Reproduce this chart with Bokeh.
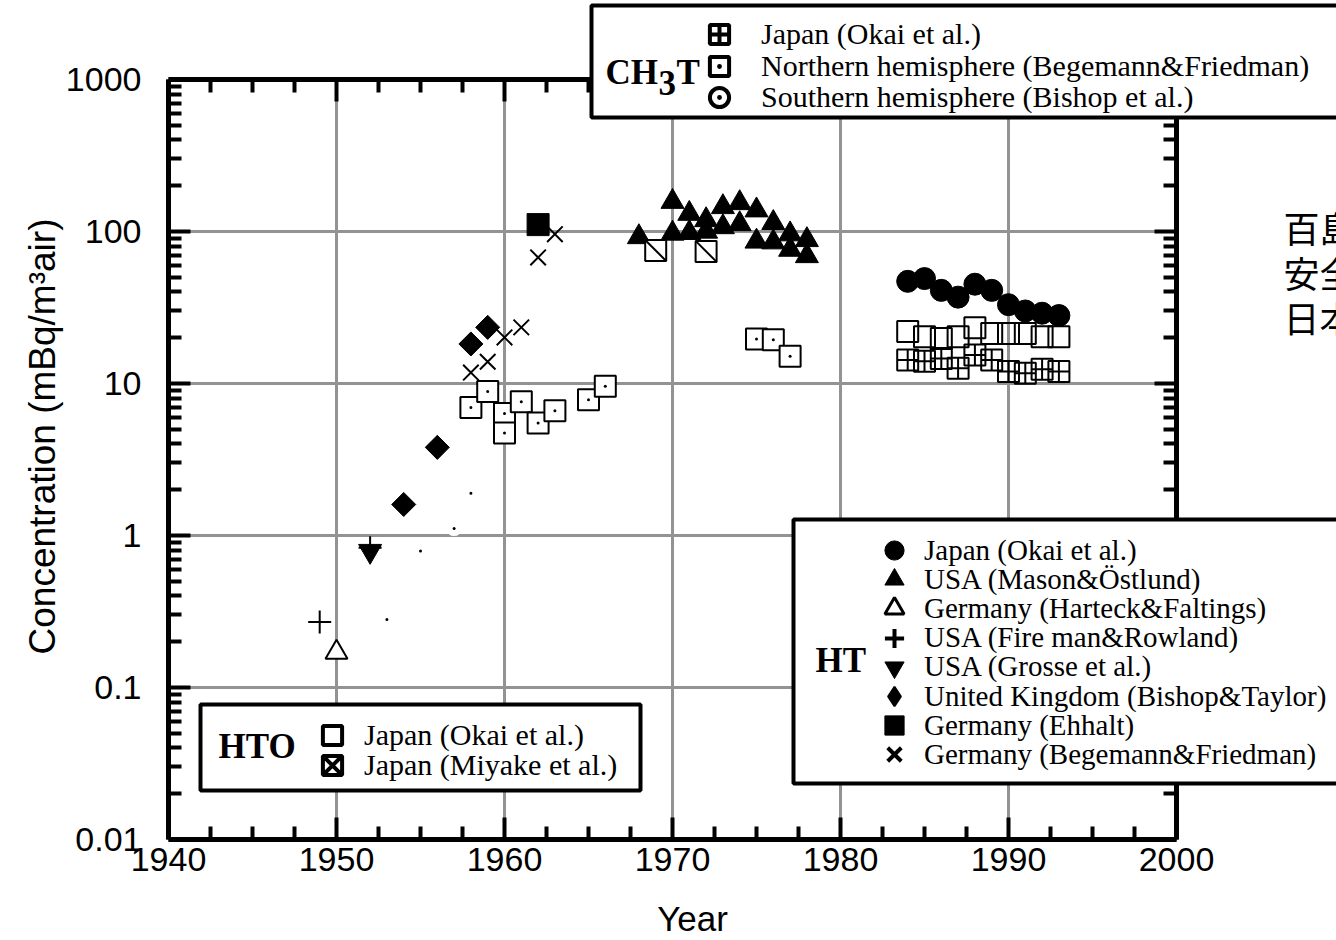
import math
from bokeh.plotting import figure
from bokeh.models import (Range1d, LogAxis, LinearAxis, FixedTicker, Legend, LegendItem,
                          BoxAnnotation, Label, CustomJSTickFormatter)
from bokeh.embed import file_html
from bokeh.resources import INLINE

# ---------------- data ----------------
x_ticks = [1940, 1950, 1960, 1970, 1980, 1990, 2000]
x_tick_labels = ["1940", "1950", "1960", "1970", "1980", "1990", "2000"]
y_ticks = [0.01, 0.1, 1, 10, 100, 1000]
y_tick_labels = ["0.01", "0.1", "1", "10", "100", "1000"]

# HT
ht_japan_okai_year = [1984, 1985, 1986, 1987, 1988, 1989, 1990, 1991, 1992, 1993]
ht_japan_okai_val = [47, 49, 41, 37, 45, 41, 33, 30, 29, 28]
ht_usa_mason_year = [1968, 1970, 1970, 1971, 1971, 1972, 1972, 1973, 1973, 1974, 1974,
                     1975, 1975, 1976, 1976, 1977, 1977, 1978, 1978]
ht_usa_mason_val = [92, 157, 97, 131, 98, 119, 100, 145, 107, 154, 112,
                    138, 86, 114, 85, 96, 76, 88, 69]
ht_ger_harteck_year = [1950]
ht_ger_harteck_val = [0.17]
ht_usa_fireman_year = [1949, 1952]
ht_usa_fireman_val = [0.27, 0.83]
ht_usa_grosse_year = [1952]
ht_usa_grosse_val = [0.79]
ht_uk_bishop_year = [1954, 1956, 1958, 1959]
ht_uk_bishop_val = [1.6, 3.8, 18.2, 23.4]
ht_ger_ehhalt_year = [1962]
ht_ger_ehhalt_val = [111]
ht_ger_begemann_year = [1958, 1959, 1960, 1961, 1962, 1963]
ht_ger_begemann_val = [11.8, 13.9, 20.1, 23.4, 67.5, 96]

# HTO
hto_japan_okai_year = [1984, 1985, 1986, 1987, 1988, 1989, 1990, 1991, 1992, 1993]
hto_japan_okai_val = [22.0, 20.3, 19.8, 20.3, 23.3, 21.3, 21.3, 21.3, 20.3, 20.3]
hto_japan_miyake_year = [1969, 1972]
hto_japan_miyake_val = [75, 74]

# CH3T
ch3t_japan_okai_year = [1984, 1985, 1986, 1987, 1988, 1989, 1990, 1991, 1992, 1993]
ch3t_japan_okai_val = [14.3, 14.0, 14.6, 12.6, 15.4, 14.3, 12.0, 11.7, 12.4, 12.0]
ch3t_north_year = [1958, 1959, 1960, 1960, 1961, 1962, 1963, 1965, 1966, 1975, 1976, 1977]
ch3t_north_val = [6.95, 8.86, 6.35, 4.72, 7.58, 5.49, 6.61, 7.81, 9.61, 19.6, 19.4, 15.1]
ch3t_south_year = [1953, 1955, 1957, 1958]
ch3t_south_val = [0.28, 0.79, 1.11, 1.90]

legend_ht_labels = ["Japan (Okai et al.)", "USA (Mason&Östlund)", "Germany (Harteck&Faltings)",
                    "USA (Fire man&Rowland)", "USA (Grosse et al.)",
                    "United Kingdom (Bishop&Taylor)", "Germany (Ehhalt)",
                    "Germany (Begemann&Friedman)"]
legend_hto_labels = ["Japan (Okai et al.)", "Japan (Miyake et al.)"]
legend_ch3t_labels = ["Japan (Okai et al.)", "Northern hemisphere (Begemann&Friedman)",
                      "Southern hemisphere (Bishop et al.)"]
x_title = "Year"
y_title = "Concentration (mBq/m³air)"
side_text = ["百島", "安全", "日本"]

# ---------------- layout (pixels) ----------------
W, H = 1336, 940
X0, X1 = 168, 1176      # pixel columns of the first / last x tick
YT, YB = 79, 839        # pixel rows of the last / first y tick

px_per_year = (X1 - X0) / (x_ticks[-1] - x_ticks[0])
px_per_dec = (YB - YT) / math.log10(y_ticks[-1] / y_ticks[0])
x_start = x_ticks[0] - X0 / px_per_year
x_end = x_ticks[-1] + (W - X1) / px_per_year
y_start = y_ticks[0] / 10 ** ((H - YB) / px_per_dec)
y_end = y_ticks[-1] * 10 ** (YT / px_per_dec)

def sx(X):
    return X
def sy(Y):
    return H - Y

SERIF = "Liberation Serif"
SANS = "Liberation Sans"
GRID = "#939393"

p = figure(width=W, height=H, x_range=Range1d(x_start, x_end), y_range=Range1d(y_start, y_end),
           y_axis_type="log", output_backend="svg", toolbar_location=None, min_border=0)
p.outline_line_color = None
p.background_fill_color = "white"
p.grid.visible = False

x_minor = [x_ticks[0] + 2.5 * i for i in range(25) if i % 4 != 0]
y_minor = [m * 10.0 ** e for e in range(-2, 3) for m in range(2, 10)]
empty = CustomJSTickFormatter(code="return ''")

def style_axis(ax):
    ax.axis_line_width = 5
    ax.axis_line_color = "black"
    ax.major_tick_in = 22
    ax.major_tick_out = 0
    ax.major_tick_line_width = 4
    ax.major_tick_line_color = "black"
    ax.minor_tick_in = 13
    ax.minor_tick_out = 0
    ax.minor_tick_line_width = 4
    ax.minor_tick_line_color = "black"
    ax.major_label_text_font = SANS
    ax.major_label_text_font_size = "34px"
    ax.major_label_text_color = "black"

xa = p.xaxis[0]
xa.ticker = FixedTicker(ticks=x_ticks, minor_ticks=x_minor)
xa.major_label_overrides = dict(zip(x_ticks, x_tick_labels))
xa.fixed_location = y_ticks[0]
xa.bounds = (x_ticks[0], x_ticks[-1])
style_axis(xa)
xa.major_label_standoff = 8

ya = p.yaxis[0]
ya.ticker = FixedTicker(ticks=y_ticks, minor_ticks=y_minor)
ya.major_label_overrides = dict(zip(y_ticks, y_tick_labels))
ya.fixed_location = x_ticks[0]
ya.bounds = (y_ticks[0], y_ticks[-1])
style_axis(ya)
ya.major_label_standoff = 27

ra = LogAxis(ticker=FixedTicker(ticks=y_ticks, minor_ticks=y_minor), formatter=empty,
             fixed_location=x_ticks[-1], bounds=(y_ticks[0], y_ticks[-1]))
style_axis(ra)
p.add_layout(ra, "right")
ta = LinearAxis(ticker=FixedTicker(ticks=x_ticks, minor_ticks=x_minor), formatter=empty,
                fixed_location=y_ticks[-1], bounds=(x_ticks[0], x_ticks[-1]))
style_axis(ta)
p.add_layout(ta, "above")

# grid lines at the inner ticks
gx = x_ticks[1:-1]
gy = y_ticks[1:-1]
p.segment(x0=gx, y0=[y_ticks[0]] * len(gx), x1=gx, y1=[y_ticks[-1]] * len(gx),
          line_color=GRID, line_width=3)
p.segment(x0=[x_ticks[0]] * len(gy), y0=gy, x1=[x_ticks[-1]] * len(gy), y1=gy,
          line_color=GRID, line_width=3)

# ---------------- data marks ----------------
p.scatter(hto_japan_okai_year, hto_japan_okai_val, marker="square", size=21,
          fill_color=None, line_color="black", line_width=2)
p.scatter(ch3t_japan_okai_year, ch3t_japan_okai_val, marker="square_cross", size=21,
          fill_color=None, line_color="black", line_width=2)
p.scatter(ch3t_north_year, ch3t_north_val, marker="square", size=21,
          fill_color="white", line_color="black", line_width=2)
p.scatter(ch3t_north_year, ch3t_north_val, marker="circle", size=3,
          fill_color="black", line_color=None)
p.scatter(ch3t_south_year, ch3t_south_val, marker="circle", size=15,
          fill_color="white", line_color=None)
p.scatter(ch3t_south_year, ch3t_south_val, marker="circle", size=3,
          fill_color="black", line_color=None)

p.scatter(ht_japan_okai_year, ht_japan_okai_val, marker="circle", size=22,
          fill_color="black", line_color="black")
p.scatter(ht_usa_mason_year, ht_usa_mason_val, marker="triangle", size=23,
          fill_color="black", line_color="black")
p.scatter(hto_japan_miyake_year, hto_japan_miyake_val, marker="square", size=21,
          fill_color="white", line_color="black", line_width=2)
p.scatter(hto_japan_miyake_year, hto_japan_miyake_val, marker="dash", size=29,
          angle=-math.pi / 4, line_color="black", line_width=2)
p.scatter(ht_ger_harteck_year, ht_ger_harteck_val, marker="triangle", size=22,
          fill_color="white", line_color="black", line_width=2)
p.scatter(ht_usa_fireman_year, ht_usa_fireman_val, marker="cross", size=23,
          line_color="black", line_width=2)
p.scatter(ht_usa_grosse_year, ht_usa_grosse_val, marker="inverted_triangle", size=23,
          fill_color="black", line_color="black")
p.scatter(ht_uk_bishop_year, ht_uk_bishop_val, marker="square", size=17, angle=math.pi / 4,
          fill_color="black", line_color="black")
p.scatter(ht_ger_ehhalt_year, ht_ger_ehhalt_val, marker="square", size=22,
          fill_color="black", line_color="black")
p.scatter(ht_ger_begemann_year, ht_ger_begemann_val, marker="x", size=22,
          line_color="black", line_width=2)

# ---------------- legend-only renderers (same data, hidden) ----------------
def hidden(xs, ys, **kw):
    r = p.scatter(xs, ys, **kw)
    r.visible = False
    return r

lg_ht = [
    hidden(ht_japan_okai_year, ht_japan_okai_val, marker="circle", fill_color="black", line_color="black"),
    hidden(ht_usa_mason_year, ht_usa_mason_val, marker="triangle", fill_color="black", line_color="black"),
    hidden(ht_ger_harteck_year, ht_ger_harteck_val, marker="triangle", fill_color="white", line_color="black", line_width=3),
    hidden(ht_usa_fireman_year, ht_usa_fireman_val, marker="cross", line_color="black", line_width=4),
    hidden(ht_usa_grosse_year, ht_usa_grosse_val, marker="inverted_triangle", fill_color="black", line_color="black"),
    hidden(ht_uk_bishop_year, ht_uk_bishop_val, marker="diamond", fill_color="black", line_color="black", line_width=2),
    hidden(ht_ger_ehhalt_year, ht_ger_ehhalt_val, marker="square", fill_color="black", line_color="black"),
    hidden(ht_ger_begemann_year, ht_ger_begemann_val, marker="x", line_color="black", line_width=4),
]
lg_hto = [
    hidden(hto_japan_okai_year, hto_japan_okai_val, marker="square", fill_color="white", line_color="black", line_width=4),
    hidden(hto_japan_miyake_year, hto_japan_miyake_val, marker="square_x", fill_color="white", line_color="black", line_width=4),
]
lg_ch3t = [
    hidden(ch3t_japan_okai_year, ch3t_japan_okai_val, marker="square_cross", fill_color="white", line_color="black", line_width=4),
    hidden(ch3t_north_year, ch3t_north_val, marker="square_dot", fill_color="white", line_color="black", line_width=4),
    hidden(ch3t_south_year, ch3t_south_val, marker="circle_dot", fill_color="white", line_color="black", line_width=4),
]

# ---------------- legend frames ----------------
def frame_box(L, R, T, B):
    return BoxAnnotation(left=sx(L), right=sx(R), top=sy(T), bottom=sy(B),
                         left_units="screen", right_units="screen",
                         top_units="screen", bottom_units="screen",
                         fill_color="white", fill_alpha=1.0,
                         line_color="black", line_width=4, line_alpha=1.0)

p.add_layout(frame_box(591, 1420, 5, 117))
p.add_layout(frame_box(793, 1420, 519, 783))
p.add_layout(frame_box(200, 640, 704, 790))

G = 48
def add_legend(labels, renderers, marker_x, label_x, first_y, pitch, font_px):
    for i, (t, r) in enumerate(zip(labels, renderers)):
        row_y = first_y + pitch * i
        lg = Legend(items=[LegendItem(label=t, renderers=[r])],
                    location=(sx(marker_x - G / 2), sy(row_y + G / 2)),
                    glyph_width=G, glyph_height=G,
                    label_standoff=int(round(label_x - marker_x - G / 2)),
                    padding=0, margin=0, spacing=0,
                    border_line_color=None, background_fill_alpha=0.0,
                    label_text_font=SERIF, label_text_font_size=f"{font_px}px",
                    label_text_color="black")
        p.add_layout(lg)

add_legend(legend_ch3t_labels, lg_ch3t, 719, 761, 34, 31.5, 30)
add_legend(legend_ht_labels, lg_ht, 894, 924, 550, 29.2, 29)
add_legend(legend_hto_labels, lg_hto, 332, 364, 735, 30, 30)

# ---------------- titles / texts ----------------
def lbl(text, X, Y, size, bold=False, font=SERIF, align="left", angle=0.0):
    return Label(x=sx(X), y=sy(Y), x_units="screen", y_units="screen", text=text,
                 text_font=font, text_font_size=f"{size}px",
                 text_font_style="bold" if bold else "normal", angle=angle,
                 text_align=align, text_baseline="middle", text_color="black")

p.add_layout(lbl(x_title, 692, 918, 35, font=SANS, align="center"))
p.add_layout(lbl(y_title, 42, 436, 37, font=SANS, align="center", angle=math.pi / 2))

p.add_layout(lbl("HTO", 218, 746, 35, bold=True))
p.add_layout(lbl("HT", 815, 660, 35, bold=True))
p.add_layout(lbl("CH", 605, 72, 35, bold=True))
p.add_layout(lbl("3", 658, 82, 35, bold=True))
p.add_layout(lbl("T", 676, 72, 35, bold=True))

for i, t in enumerate(side_text):
    p.add_layout(lbl(t, 1283, 226 + 45 * i, 36, font="Noto Sans CJK JP"))

open("out.html", "w").write(file_html(p, INLINE))
